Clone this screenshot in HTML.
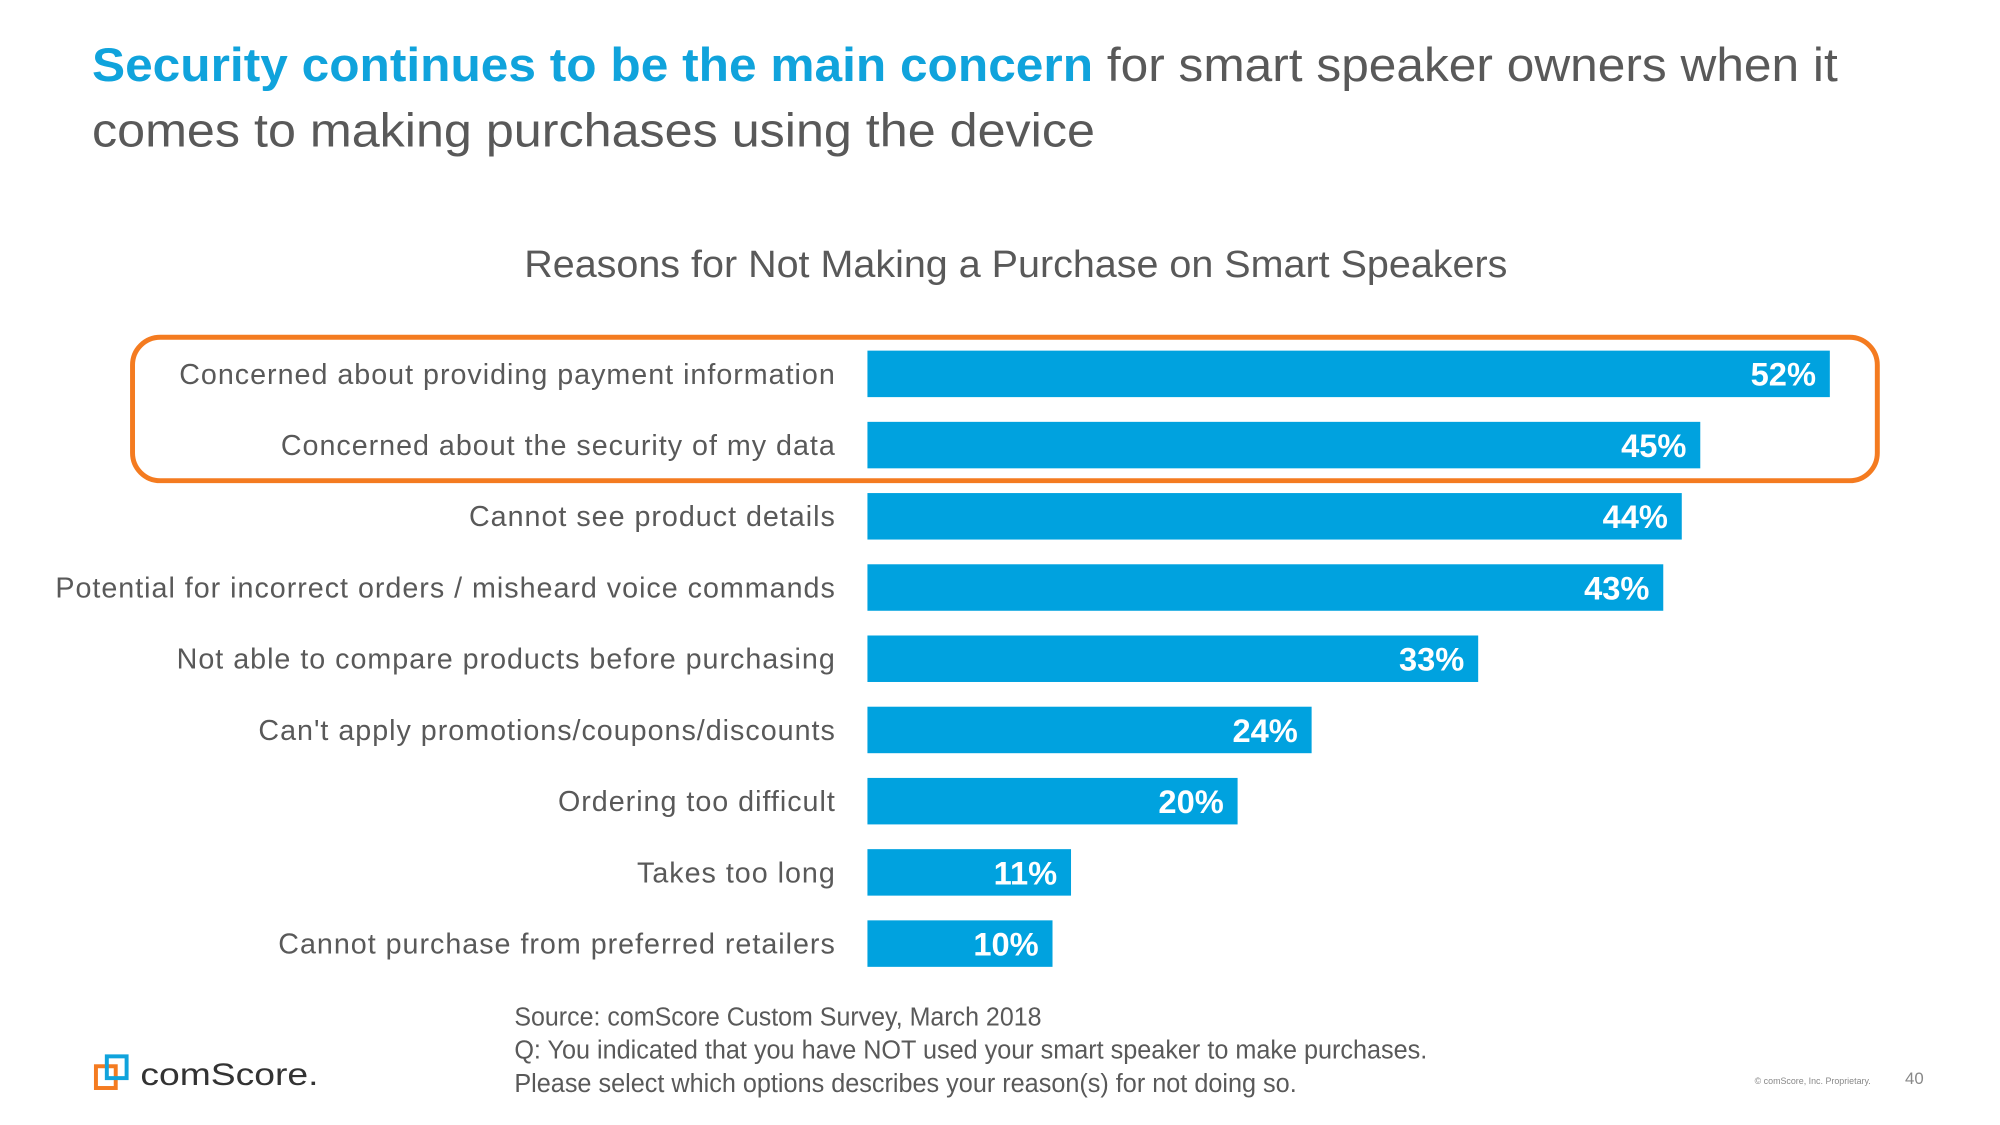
<!DOCTYPE html>
<html><head><meta charset="utf-8"><style>
html,body{margin:0;padding:0;background:#fff;}
svg{display:block;font-family:"Liberation Sans",sans-serif;}
</style></head><body>
<svg id="chart" width="2000" height="1125" viewBox="0 0 2022 1137.4" preserveAspectRatio="xMinYMin meet">
<text x="93" y="82" font-size="48" fill="#595959" textLength="1765" lengthAdjust="spacingAndGlyphs"><tspan fill="#10a3dc" font-weight="bold">Security continues to be the main concern</tspan> for smart speaker owners when it</text>
<text x="93" y="148" font-size="48" fill="#595959" textLength="1014" lengthAdjust="spacingAndGlyphs">comes to making purchases using the device</text>
<text x="530" y="280" font-size="38" fill="#595959" textLength="994" lengthAdjust="spacingAndGlyphs">Reasons for Not Making a Purchase on Smart Speakers</text>
<g id="bars"></g>
<rect x="134" y="341" width="1764" height="145" rx="28" ry="28" fill="none" stroke="#f47b20" stroke-width="5"/>
<text font-size="26" fill="#595959">
<tspan x="520" y="1037" textLength="533" lengthAdjust="spacingAndGlyphs">Source: comScore Custom Survey, March 2018</tspan>
<tspan x="520" y="1070" textLength="923" lengthAdjust="spacingAndGlyphs">Q: You indicated that you have NOT used your smart speaker to make purchases.</tspan>
<tspan x="520" y="1104" textLength="791" lengthAdjust="spacingAndGlyphs">Please select which options describes your reason(s) for not doing so.</tspan>
</text>
<g>
<rect x="97" y="1078" width="20" height="22" fill="none" stroke="#f47b20" stroke-width="4"/>
<rect x="108" y="1068" width="20" height="22" fill="none" stroke="#10a3dc" stroke-width="4"/>
<text x="142" y="1097" font-size="32" fill="#333" textLength="180" lengthAdjust="spacingAndGlyphs">comScore.</text>
</g>
<text x="1774" y="1096" font-size="9" fill="#888">© comScore, Inc. Proprietary.</text>
<text x="1926" y="1096" font-size="17" fill="#888">40</text>
</svg>
<script>
const categories = ["Concerned about providing payment information","Concerned about the security of my data","Cannot see product details","Potential for incorrect orders / misheard voice commands","Not able to compare products before purchasing","Can't apply promotions/coupons/discounts","Ordering too difficult","Takes too long","Cannot purchase from preferred retailers"];
const values = [52,45,44,43,33,24,20,11,10];
const valueLabels = ["52%","45%","44%","43%","33%","24%","20%","11%","10%"];
const NS="http://www.w3.org/2000/svg";
const x0=877, pxPer=(1850-877)/52;
function xs(v){return x0+v*pxPer;}
function yc(i){return 378+i*72;}
const g=document.getElementById('bars');
categories.forEach((c,i)=>{
  const r=document.createElementNS(NS,'rect');
  r.setAttribute('x',x0);r.setAttribute('y',yc(i)-23.5);
  r.setAttribute('width',xs(values[i])-x0);r.setAttribute('height',47);
  r.setAttribute('fill','#00a2df');
  
  
  g.appendChild(r);
  const t=document.createElementNS(NS,'text');
  t.setAttribute('x',845);t.setAttribute('y',yc(i)+10);
  t.setAttribute('text-anchor','end');t.setAttribute('font-size','29');t.setAttribute('letter-spacing','1');t.setAttribute('fill','#595959');
  t.textContent=c;
  
  
  g.appendChild(t);
  const v=document.createElementNS(NS,'text');
  v.setAttribute('x',xs(values[i])-14);v.setAttribute('y',yc(i)+12);
  v.setAttribute('text-anchor','end');v.setAttribute('font-size','33');v.setAttribute('font-weight','bold');v.setAttribute('fill','#fff');
  v.textContent=valueLabels[i];
  
  
  g.appendChild(v);
});
</script>
</body></html>
